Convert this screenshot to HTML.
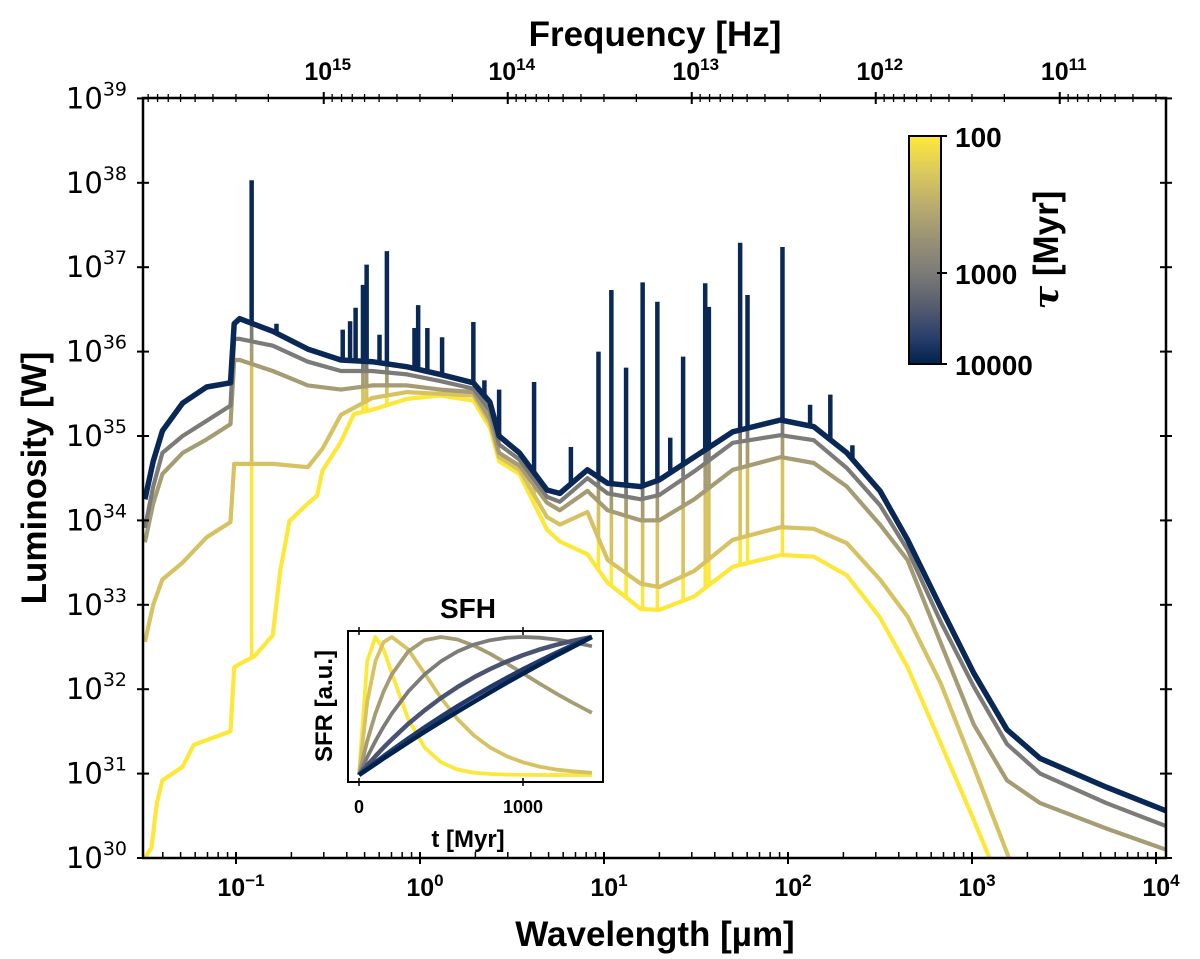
<!DOCTYPE html>
<html><head><meta charset="utf-8"><style>
body{margin:0;background:#fff;}
svg{display:block;font-family:"Liberation Sans",sans-serif;}
</style></head><body>
<svg id="chart" width="1200" height="959" viewBox="0 0 1200 959">
<defs>
<clipPath id="plotclip"><rect x="143" y="98" width="1023" height="760"/></clipPath>
<clipPath id="insetclip"><rect x="348" y="631" width="255" height="151"/></clipPath>
<linearGradient id="cbgrad" x1="0" y1="0" x2="0" y2="1">
<stop offset="0" stop-color="#fee838"/>
<stop offset="0.15" stop-color="#dccb5c"/>
<stop offset="0.3" stop-color="#bbad6c"/>
<stop offset="0.45" stop-color="#9a9275"/>
<stop offset="0.6" stop-color="#7c7b78"/>
<stop offset="0.75" stop-color="#555c6e"/>
<stop offset="0.88" stop-color="#2a3f6c"/>
<stop offset="1" stop-color="#00224e"/>
</linearGradient>
</defs>
<g id="series" clip-path="url(#plotclip)"></g>
<g id="axes"></g>
<g id="inset"></g>
<text x="655" y="46" text-anchor="middle" font-size="35" font-weight="bold">Frequency [Hz]</text>
<text x="655" y="946" text-anchor="middle" font-size="35" font-weight="bold">Wavelength [µm]</text>
<text transform="translate(46,478) rotate(-90)" text-anchor="middle" font-size="35" font-weight="bold">Luminosity [W]</text>
<rect x="909" y="136" width="32" height="228" fill="url(#cbgrad)" stroke="#000" stroke-width="2"/>
<g>
<line x1="941" y1="136" x2="947" y2="136" stroke="#000" stroke-width="2"/>
<line x1="937" y1="273" x2="947" y2="273" stroke="#000" stroke-width="2"/>
<line x1="941" y1="364" x2="947" y2="364" stroke="#000" stroke-width="2"/>
<text x="955" y="147" font-size="28" font-weight="bold">100</text>
<text x="955" y="284" font-size="28" font-weight="bold">1000</text>
<text x="955" y="375" font-size="28" font-weight="bold">10000</text>
</g>
<text transform="translate(1058,250) rotate(-90)" text-anchor="middle" font-size="35" font-weight="bold"><tspan font-style="italic" font-family="DejaVu Serif, serif">τ</tspan> [Myr]</text>
</svg>
<script>
// ---- main SED data (log10 wavelength [µm], log10 luminosity [W]) ----
const lamT10000 = [-1.495,-1.45,-1.40,-1.29,-1.16,-1.03,-1.01,-0.98,-0.80,-0.61,-0.43,-0.26,-0.07,0.11,0.29,0.38,0.43,0.54,0.69,0.76,0.91,1.02,1.20,1.30,1.49,1.70,1.96,2.14,2.32,2.50,2.65,2.83,3.01,3.19,3.37,3.73,4.065];
const lumT10000 = [34.25,34.7,35.06,35.39,35.58,35.63,36.33,36.39,36.24,36.03,35.90,35.88,35.82,35.73,35.63,35.4,35.0,34.80,34.36,34.32,34.60,34.44,34.40,34.48,34.75,35.05,35.19,35.11,34.80,34.35,33.77,32.97,32.19,31.52,31.18,30.84,30.55];
const lamT1000 = lamT10000;
const lumT1000 = [33.91,34.4,34.80,35.0,35.18,35.36,36.15,36.15,36.07,35.88,35.77,35.77,35.73,35.65,35.56,35.3,34.9,34.72,34.28,34.22,34.50,34.32,34.25,34.30,34.58,34.92,35.01,34.95,34.62,34.18,33.65,32.80,32.03,31.35,31.0,30.65,30.37];
const lamT500 = lamT10000;
const lumT500 = [33.74,34.2,34.55,34.8,34.96,35.14,35.90,35.90,35.77,35.60,35.55,35.60,35.60,35.55,35.52,35.2,34.8,34.65,34.21,34.12,34.35,34.12,34.0,34.0,34.25,34.60,34.75,34.68,34.40,33.95,33.53,32.55,31.58,30.92,30.65,30.35,30.09];
const lamT200 = [-1.495,-1.45,-1.40,-1.29,-1.16,-1.03,-1.01,-0.98,-0.80,-0.61,-0.53,-0.43,-0.26,-0.07,0.11,0.29,0.38,0.43,0.54,0.69,0.76,0.91,1.02,1.20,1.30,1.49,1.70,1.96,2.14,2.32,2.50,2.65,2.83,3.01,3.19,3.37];
const lumT200 = [32.56,33.0,33.3,33.5,33.8,33.98,34.67,34.67,34.67,34.63,34.85,35.25,35.45,35.52,35.50,35.48,35.15,34.75,34.60,34.04,33.95,34.10,33.53,33.25,33.21,33.40,33.77,33.92,33.90,33.73,33.3,32.86,32.07,31.08,30.06,29.0];
const lamT100 = [-1.495,-1.46,-1.43,-1.40,-1.29,-1.23,-1.03,-1.01,-0.98,-0.90,-0.80,-0.76,-0.71,-0.61,-0.56,-0.53,-0.43,-0.36,-0.26,-0.07,0.11,0.29,0.38,0.43,0.54,0.69,0.76,0.91,1.02,1.20,1.30,1.49,1.70,1.96,2.14,2.32,2.50,2.65,2.83,3.01,3.19];
const lumT100 = [30.0,30.12,30.65,30.92,31.08,31.34,31.5,32.26,32.3,32.39,32.64,33.4,33.99,34.20,34.29,34.59,34.93,35.26,35.31,35.44,35.48,35.42,35.1,34.7,34.55,33.89,33.75,33.6,33.26,32.95,32.94,33.10,33.45,33.59,33.57,33.35,32.85,32.26,31.36,30.45,29.5];
// emission lines of the τ=10000 model: log λ and peak log L
const lineLam = [-0.915,-0.78,-0.54,-0.42,-0.38,-0.35,-0.31,-0.29,-0.22,-0.18,-0.03,-0.01,0.04,0.12,0.29,0.35,0.43,0.62,0.82,0.97,1.04,1.12,1.21,1.29,1.36,1.43,1.55,1.57,1.74,1.78,1.97,2.12,2.23,2.35];
const linePeak = [38.03,36.33,36.0,36.26,36.36,36.52,36.79,37.03,36.2,37.19,36.28,36.55,36.28,36.17,36.35,35.66,35.55,35.64,34.87,36.0,36.73,35.81,36.82,36.59,34.98,35.94,36.81,36.53,37.29,36.67,37.24,35.37,35.49,34.89];
const tauVals = [100,200,500,1000,10000];
const tauColors = ["#fde83a","#d6c262","#a59c74","#7c7b78","#0a2856"];

// ---- SFH inset data ----
const sfhT = [0,50,100,150,200,300,400,500,600,700,800,900,1000,1100,1200,1300,1420];
const sfh100 = [0,0.824,1,0.910,0.736,0.406,0.199,0.092,0.040,0.017,0.007,0.003,0.001,0,0,0,0];
const sfh200 = [0,0.529,0.824,0.963,1,0.910,0.736,0.558,0.406,0.287,0.199,0.136,0.092,0.061,0.040,0.027,0.016];
const sfh500 = [0,0.246,0.445,0.604,0.729,0.895,0.977,1,0.982,0.938,0.878,0.809,0.736,0.663,0.592,0.525,0.451];
const sfh1000 = [0,0.129,0.246,0.351,0.445,0.604,0.729,0.824,0.895,0.945,0.977,0.995,1,0.995,0.982,0.963,0.933];
const sfh2000 = [0,0.070,0.136,0.199,0.259,0.370,0.469,0.558,0.637,0.707,0.768,0.822,0.869,0.909,0.943,0.972,1];
const sfh5000 = [0,0.046,0.092,0.136,0.180,0.264,0.345,0.423,0.498,0.569,0.638,0.703,0.766,0.826,0.884,0.939,1];
const sfh10000 = [0,0.040,0.080,0.120,0.159,0.236,0.312,0.386,0.459,0.530,0.599,0.668,0.734,0.800,0.864,0.926,1];
const sfhColors = ["#fde83a","#d6c262","#a59c74","#7c7b78","#4a5370","#223a6a","#00224e"];

const NS="http://www.w3.org/2000/svg";
const X = l => 236 + (l + 1) * 184;
const Y = v => 858 - (v - 30) * 84.4;
function mk(tag, attrs, parent){const e=document.createElementNS(NS,tag);for(const k in attrs)e.setAttribute(k,attrs[k]);parent.appendChild(e);return e;}
function interp(xs, ys, x){
  if(x<=xs[0])return ys[0];
  for(let i=1;i<xs.length;i++){if(x<=xs[i]){const f=(x-xs[i-1])/(xs[i]-xs[i-1]);return ys[i-1]+f*(ys[i]-ys[i-1]);}}
  return ys[ys.length-1];
}
const series = document.getElementById('series');
const allLam=[lamT100,lamT200,lamT500,lamT1000,lamT10000];
const allLum=[lumT100,lumT200,lumT500,lumT1000,lumT10000];
const names=['tau-100','tau-200','tau-500','tau-1000','tau-10000'];
for(let c=0;c<5;c++){
  const g=mk('g',{},series);
  
  
  const lam=allLam[c], lum=allLum[c];
  for(let i=0;i<lineLam.length;i++){
    const base=interp(lam,lum,lineLam[i]);
    const navyC=interp(lamT10000,lumT10000,lineLam[i]);
    if(c!==4 && linePeak[i]-navyC<0.9)continue;
    const top = c===4 ? linePeak[i] : Math.max(base, navyC);
    if(top<=base)continue;
    const ln=mk('line',{x1:X(lineLam[i]),x2:X(lineLam[i]),y1:Y(base),y2:Y(top),stroke:tauColors[c],'stroke-width':c===4?4.5:3.5},g);
    
    
  }
  let d='';
  for(let i=0;i<lam.length;i++){d+=(i?'L':'M')+X(lam[i]).toFixed(1)+' '+Y(lum[i]).toFixed(1);}
  const p=mk('path',{d:d,fill:'none',stroke:tauColors[c],'stroke-width':c===4?5.5:4.2,'stroke-linejoin':'round'},g);
  
  
}
// axes
const ax=document.getElementById('axes');
mk('rect',{x:143,y:98,width:1023,height:760,fill:'none',stroke:'#000','stroke-width':2.5},ax);
for(let e=30;e<=39;e++){
  const y=Y(e);
  mk('line',{x1:137,x2:149,y1:y,y2:y,stroke:'#000','stroke-width':2},ax);
  mk('line',{x1:1160,x2:1172,y1:y,y2:y,stroke:'#000','stroke-width':2},ax);
  const t=mk('text',{x:127,y:y+10,'text-anchor':'end','font-size':29,'font-family':'DejaVu Sans, sans-serif'},ax);
  
  
  t.innerHTML='10<tspan dy="-13" font-size="19">'+e+'</tspan>';
}
for(let e=-2;e<=4;e++){
  for(let m=1;m<10;m++){
    const l=e+Math.log10(m);
    if(l<-1.495||l>4.066)continue;
    const x=X(l);
    if(m===1){
      mk('line',{x1:x,x2:x,y1:852,y2:864,stroke:'#000','stroke-width':2},ax);
      const t=mk('text',{x:x+5,y:896,'text-anchor':'middle','font-size':25,'font-weight':'bold'},ax);
      
      
      t.innerHTML='10<tspan dy="-10" font-size="17">'+(e<0?'−'+(-e):e)+'</tspan>';
    } else mk('line',{x1:x,x2:x,y1:852,y2:858,stroke:'#000','stroke-width':1.5},ax);
  }
}
for(let e=10;e<=16;e++){
  for(let m=1;m<10;m++){
    const l=Math.log10(2.998e14)-(e+Math.log10(m));
    if(l<-1.495||l>4.066)continue;
    const x=X(l);
    if(m===1){
      mk('line',{x1:x,x2:x,y1:92,y2:104,stroke:'#000','stroke-width':2},ax);
      const t=mk('text',{x:x+4,y:80,'text-anchor':'middle','font-size':25,'font-weight':'bold'},ax);
      
      
      t.innerHTML='10<tspan dy="-10" font-size="17">'+e+'</tspan>';
    } else mk('line',{x1:x,x2:x,y1:94,y2:102,stroke:'#000','stroke-width':1.3},ax);
  }
}
// inset
const ins=document.getElementById('inset');
const IX=t=>359+t*0.164;
const IY=v=>775-v*138;
mk('rect',{x:348,y:631,width:255,height:151,fill:'#fff',stroke:'none'},ins);
const sfhAll=[sfh100,sfh200,sfh500,sfh1000,sfh2000,sfh5000,sfh10000];
const sg=mk('g',{'clip-path':'url(#insetclip)'},ins);
for(let c=0;c<sfhAll.length;c++){
  const v=sfhAll[c];
  let d='';
  for(let i=0;i<sfhT.length;i++){d+=(i?'L':'M')+IX(sfhT[i]).toFixed(1)+' '+IY(v[i]).toFixed(1);}
  const p=mk('path',{d:d,fill:'none',stroke:sfhColors[c],'stroke-width':c>=4?4.5:3.8,'stroke-linejoin':'round'},sg);
  
  
}
mk('rect',{x:348,y:631,width:255,height:151,fill:'none',stroke:'#000','stroke-width':2},ins);
[[0,'0'],[1000,'1000']].forEach(([t,s])=>{
  mk('line',{x1:IX(t),x2:IX(t),y1:627,y2:635,stroke:'#000','stroke-width':1.5},ins);
  mk('line',{x1:IX(t),x2:IX(t),y1:778,y2:786,stroke:'#000','stroke-width':1.5},ins);
  const tx=mk('text',{x:IX(t),y:813,'text-anchor':'middle','font-size':18,'font-weight':'bold'},ins);
  
  
  tx.textContent=s;
});
const tt=mk('text',{x:468,y:618,'text-anchor':'middle','font-size':28,'font-weight':'bold'},ins);


tt.textContent='SFH';
const xl=mk('text',{x:468,y:847,'text-anchor':'middle','font-size':24,'font-weight':'bold'},ins);


xl.textContent='t [Myr]';
const yl=mk('text',{transform:'translate(332,706) rotate(-90)','text-anchor':'middle','font-size':24,'font-weight':'bold'},ins);


yl.textContent='SFR [a.u.]';
</script>
</body></html>
